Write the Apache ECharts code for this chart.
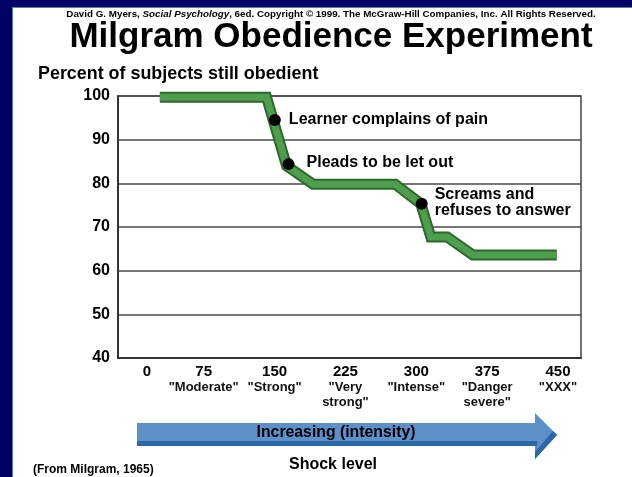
<!DOCTYPE html>
<html>
<head>
<meta charset="utf-8">
<script src="https://cdn.jsdelivr.net/npm/echarts@6/dist/echarts.min.js"></script>
<style>
html,body{margin:0;padding:0;background:#ffffff;}
#chart{width:632px;height:477px;}
</style>
</head>
<body>
<div id="chart"></div>
<script>
// ---- data ----
var shockLevels = [0, 75, 150, 225, 300, 375, 450];
var shockNames = ['', '"Moderate"', '"Strong"', '"Very\nstrong"', '"Intense"', '"Danger\nsevere"', '"XXX"'];
var obedienceX = [28.6, 141.5, 162.7, 190.8, 277.7, 304.8, 315.3, 332.7, 359.8, 448.7];
var obedienceY = [99.7, 99.7, 84, 79.8, 79.8, 75.3, 67.7, 67.7, 63.6, 63.6];
var eventX = [150.3, 164.8, 305.7];
var eventY = [94.5, 84.4, 75.3];
var eventText = ['Learner complains of pain', 'Pleads to be let out', 'Screams and\nrefuses to answer'];
var yTicks = [40, 50, 60, 70, 80, 90, 100];

var FONT = '"Liberation Sans", Arial, Helvetica, sans-serif';
var chart = echarts.init(document.getElementById('chart'), null, {renderer: 'canvas'});

var lineData = obedienceX.map(function (x, i) { return [x, obedienceY[i]]; });
var eventData = eventX.map(function (x, i) {
  var lbl = {};
  if (i === 1) { lbl = {distance: 12, offset: [0, -2]}; }
  if (i === 2) { lbl = {distance: 7, offset: [0, -1]}; }
  return {value: [x, eventY[i]], name: eventText[i], label: lbl};
});

var labelMap = {};
shockLevels.forEach(function (v, i) { labelMap[v] = shockNames[i]; });

var option = {
  backgroundColor: '#ffffff',
  animation: false,
  grid: {left: 118, top: 96, right: 51, bottom: 119, show: true, borderColor: '#444', borderWidth: 1.5, backgroundColor: 'transparent'},
  xAxis: {
    type: 'value', min: -15.7, max: 474.3,
    axisLine: {show: true, onZero: false, lineStyle: {color: '#333', width: 2}},
    axisTick: {show: false},
    splitLine: {show: false},
    axisLabel: {
      customValues: shockLevels,
      margin: 5,
      formatter: function (v) {
        if (v === 0) { return '{z|0}'; }
        var s = '{n|' + v + '}';
        var d = labelMap[v];
        if (d) {
          d.split('\n').forEach(function (ln) { s += '\n{q|' + ln + '}'; });
        }
        return s;
      },
      rich: {
        z: {fontSize: 15, fontWeight: 'bold', fontFamily: FONT, color: '#000', lineHeight: 17, padding: [0, 0, 0, 28]},
        n: {fontSize: 15, fontWeight: 'bold', fontFamily: FONT, color: '#000', lineHeight: 17, align: 'center'},
        q: {fontSize: 13, fontWeight: 'bold', fontFamily: FONT, color: '#111', lineHeight: 15, align: 'center'}
      }
    }
  },
  yAxis: {
    type: 'value', min: 40, max: 100, interval: 10,
    axisLine: {show: true, onZero: false, lineStyle: {color: '#333', width: 2}},
    axisTick: {show: false},
    axisLabel: {margin: 8, fontSize: 16, fontWeight: 'bold', fontFamily: FONT, color: '#000'},
    splitLine: {show: true, lineStyle: {color: '#4a4a4a', width: 1.5}}
  },
  series: [
    {type: 'line', data: lineData, symbol: 'none', z: 3,
     lineStyle: {color: '#2b6a2b', width: 11, cap: 'butt', join: 'miter'}},
    {type: 'line', data: lineData, symbol: 'none', z: 4,
     lineStyle: {color: '#4f9d4f', width: 7, cap: 'butt', join: 'miter'}},
    {type: 'scatter', data: eventData, symbol: 'circle', symbolSize: 12, z: 5,
     itemStyle: {color: '#000', opacity: 1},
     label: {show: true, position: 'right', distance: 8, formatter: '{b}',
             fontSize: 16, fontWeight: 'bold', fontFamily: FONT, color: '#000', lineHeight: 16}}
  ],
  graphic: [
    // frame
    {type: 'rect', z: -10, silent: true, shape: {x: 0, y: 0, width: 632, height: 7}, style: {fill: '#020266'}},
    {type: 'rect', z: -10, silent: true, shape: {x: 0, y: 0, width: 12, height: 477}, style: {fill: '#020266'}},
    {type: 'line', z: -9, silent: true, shape: {x1: 12.5, y1: 7, x2: 12.5, y2: 477}, style: {stroke: '#3f8f8f', lineWidth: 1}},
    {type: 'line', z: -9, silent: true, shape: {x1: 12, y1: 7.5, x2: 632, y2: 7.5}, style: {stroke: '#3f8f8f', lineWidth: 1}},
    // texts
    {type: 'text', x: 331, y: 14, style: {
      text: '{a|David G. Myers, }{b|Social Psychology}{a|, 6ed. Copyright © 1999. The McGraw-Hill Companies, Inc. All Rights Reserved.}',
      align: 'center', verticalAlign: 'middle',
      rich: {a: {font: 'bold 9.8px ' + FONT, fill: '#000'}, b: {font: 'italic bold 9.8px ' + FONT, fill: '#000'}}}},
    {type: 'text', x: 331, y: 37, style: {text: 'Milgram Obedience Experiment', fill: '#000', font: 'bold 35px ' + FONT, align: 'center', verticalAlign: 'middle'}},
    {type: 'text', x: 38, y: 74, style: {text: 'Percent of subjects still obedient', fill: '#000', font: 'bold 17.9px ' + FONT, align: 'left', verticalAlign: 'middle'}},
    // arrow
    {type: 'polygon', silent: true, shape: {points: [[137, 423], [535, 423], [535, 413], [557, 435], [535, 459], [535, 446], [137, 446]]}, style: {fill: '#5d8fc9'}},
    {type: 'polygon', silent: true, shape: {points: [[137, 441], [537, 441], [537, 446], [137, 446]]}, style: {fill: '#2d67a8'}},
    {type: 'polygon', silent: true, shape: {points: [[553, 431], [557, 435], [535, 459], [535, 452]]}, style: {fill: '#2d67a8'}},
    {type: 'text', x: 336, y: 433, style: {text: 'Increasing (intensity)', fill: '#000', font: 'bold 15.8px ' + FONT, align: 'center', verticalAlign: 'middle'}},
    {type: 'text', x: 333, y: 465, style: {text: 'Shock level', fill: '#000', font: 'bold 16px ' + FONT, align: 'center', verticalAlign: 'middle'}},
    {type: 'text', x: 33, y: 470, style: {text: '(From Milgram, 1965)', fill: '#000', font: 'bold 12px ' + FONT, align: 'left', verticalAlign: 'middle'}}
  ]
};
chart.setOption(option);
</script>
</body>
</html>
